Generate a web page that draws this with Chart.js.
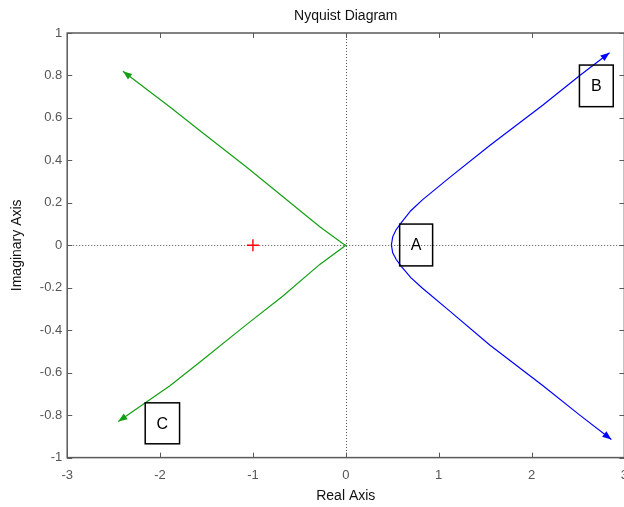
<!DOCTYPE html>
<html>
<head>
<meta charset="utf-8">
<script src="https://cdn.jsdelivr.net/npm/chart.js@4/dist/chart.umd.min.js"></script>
<style>
  html, body { margin: 0; padding: 0; background: #fff; overflow: hidden; }
  #wrap { width: 638px; height: 507px; }
</style>
</head>
<body>
<div id="wrap"><canvas id="nyq" width="638" height="507"></canvas></div>
<script>
// curve A/B (blue) and curve C (green)
const blueRe = [2.84, 2.52, 2.12, 1.55, 1.12, 0.825, 0.70, 0.60, 0.54, 0.505, 0.491, 0.505, 0.545, 0.60, 0.70, 0.82, 1.12, 1.55, 2.12, 2.52, 2.86];
const blueIm = [0.907, 0.80, 0.66, 0.47, 0.32, 0.214, 0.163, 0.108, 0.072, 0.04, 0.002, -0.035, -0.068, -0.10, -0.152, -0.20, -0.31, -0.47, -0.66, -0.80, -0.915];
const greenRe = [-2.40, -1.89, -1.57, -1.06, -0.68, -0.28, -0.03, 0, -0.28, -0.68, -1.06, -1.57, -1.89, -2.45];
const greenIm = [0.82, 0.65, 0.54, 0.365, 0.23, 0.087, 0.007, 0, -0.09, -0.24, -0.37, -0.55, -0.66, -0.83];
const critRe = [-1];
const critIm = [0];

// label boxes: text, [re1, re2], [im1, im2]
const boxLabels = ['A', 'B', 'C'];
const boxRe = [[0.58, 0.935], [2.516, 2.88], [-2.16, -1.79]];
const boxIm = [[0.10, -0.097], [0.849, 0.653], [-0.742, -0.935]];

const xTicks = [-3, -2, -1, 0, 1, 2, 3];
const yTicks = [-1, -0.8, -0.6, -0.4, -0.2, 0, 0.2, 0.4, 0.6, 0.8, 1];

const FONT = 'Liberation Sans, Arial, sans-serif';
const pts = (re, im) => re.map((v, i) => ({ x: v, y: im[i] }));

const framePlugin = {
  id: 'frame',
  beforeDatasetsDraw(chart) {
    const { ctx, chartArea: a, scales: { x, y } } = chart;
    ctx.save();
    ctx.strokeStyle = '#555';
    ctx.lineWidth = 1;
    ctx.setLineDash([1, 2]);
    const x0 = Math.round(x.getPixelForValue(0)) + 0.5;
    const y0 = Math.round(y.getPixelForValue(0)) + 0.5;
    ctx.beginPath();
    ctx.moveTo(x0, a.top); ctx.lineTo(x0, a.bottom);
    ctx.moveTo(a.left, y0); ctx.lineTo(a.right, y0);
    ctx.stroke();
    ctx.restore();
  },
  afterDatasetsDraw(chart) {
    const { ctx, chartArea: a, scales: { x, y } } = chart;
    ctx.save();
    // arrow heads at both ends of each curve
    chart.data.datasets.forEach(ds => {
      if (!ds.arrows) return;
      const d = ds.data, n = d.length;
      [[d[1], d[0]], [d[n - 2], d[n - 1]]].forEach(([p, q]) => {
        const px = x.getPixelForValue(p.x), py = y.getPixelForValue(p.y);
        const qx = x.getPixelForValue(q.x), qy = y.getPixelForValue(q.y);
        const ang = Math.atan2(qy - py, qx - px);
        ctx.fillStyle = ds.borderColor;
        ctx.beginPath();
        ctx.moveTo(qx, qy);
        ctx.lineTo(qx - 9 * Math.cos(ang) + 3.5 * Math.sin(ang), qy - 9 * Math.sin(ang) - 3.5 * Math.cos(ang));
        ctx.lineTo(qx - 9 * Math.cos(ang) - 3.5 * Math.sin(ang), qy - 9 * Math.sin(ang) + 3.5 * Math.cos(ang));
        ctx.closePath();
        ctx.fill();
      });
    });
    // text boxes
    ctx.strokeStyle = '#000';
    ctx.lineWidth = 1.5;
    ctx.fillStyle = '#000';
    ctx.font = '16px ' + FONT;
    ctx.textAlign = 'center';
    ctx.textBaseline = 'middle';
    boxLabels.forEach((t, i) => {
      const l = x.getPixelForValue(boxRe[i][0]), r = x.getPixelForValue(boxRe[i][1]);
      const tp = y.getPixelForValue(boxIm[i][0]), bt = y.getPixelForValue(boxIm[i][1]);
      ctx.strokeRect(l, tp, r - l, bt - tp);
      ctx.fillText(t, (l + r) / 2, (tp + bt) / 2 + 1);
    });
    // frame + inward ticks
    ctx.strokeStyle = '#5a5a5a';
    ctx.lineWidth = 1.5;
    ctx.strokeRect(a.left, a.top, a.right - a.left, a.bottom - a.top);
    ctx.lineWidth = 1;
    ctx.beginPath();
    xTicks.forEach(v => {
      const px = Math.round(x.getPixelForValue(v)) + 0.5;
      ctx.moveTo(px, a.bottom); ctx.lineTo(px, a.bottom - 5);
      ctx.moveTo(px, a.top); ctx.lineTo(px, a.top + 5);
    });
    yTicks.forEach(v => {
      const py = Math.round(y.getPixelForValue(v)) + 0.5;
      ctx.moveTo(a.left, py); ctx.lineTo(a.left + 5, py);
      ctx.moveTo(a.right, py); ctx.lineTo(a.right - 5, py);
    });
    ctx.stroke();
    // title centred over the axes
    ctx.fillStyle = '#111';
    ctx.font = '14px ' + FONT;
    ctx.textAlign = 'center';
    ctx.textBaseline = 'middle';
    ctx.fillText('Nyquist Diagram', (a.left + a.right) / 2, 16);
    ctx.restore();
  }
};

new Chart(document.getElementById('nyq'), {
  type: 'scatter',
  data: {
    datasets: [
      {
        data: pts(blueRe, blueIm), showLine: true, borderColor: '#0000ff',
        borderWidth: 1.2, pointRadius: 0, tension: 0, arrows: true
      },
      {
        data: pts(greenRe, greenIm), showLine: true, borderColor: '#14a014',
        borderWidth: 1.2, pointRadius: 0, tension: 0, arrows: true
      },
      {
        data: pts(critRe, critIm), showLine: false, borderColor: '#ff0000',
        pointStyle: 'cross', pointRadius: 6, borderWidth: 1.4
      }
    ]
  },
  options: {
    responsive: false,
    animation: false,
    layout: { padding: { left: 9, top: 33, right: 0, bottom: 2 } },
    plugins: {
      legend: { display: false },
      tooltip: { enabled: false },
      title: { display: false }
    },
    scales: {
      x: {
        type: 'linear', min: -3, max: 3,
        afterBuildTicks: s => { s.ticks = xTicks.map(v => ({ value: v })); },
        grid: { display: false, drawTicks: false }, border: { display: false },
        ticks: { color: '#555', font: { family: FONT, size: 13 }, padding: 10, maxRotation: 0 },
        title: { display: true, text: 'Real Axis', color: '#111', font: { family: FONT, size: 14 }, padding: { top: -5, bottom: 0 } }
      },
      y: {
        type: 'linear', min: -1, max: 1,
        afterBuildTicks: s => { s.ticks = yTicks.map(v => ({ value: v })); },
        grid: { display: false, drawTicks: false }, border: { display: false },
        ticks: {
          color: '#555', font: { family: FONT, size: 13 }, padding: 5,
          callback: v => String(Number(v.toFixed(1)))
        },
        title: { display: true, text: 'Imaginary Axis', color: '#111', font: { family: FONT, size: 14 }, padding: { top: 0, bottom: 9 } }
      }
    }
  },
  plugins: [framePlugin]
});
</script>
</body>
</html>
